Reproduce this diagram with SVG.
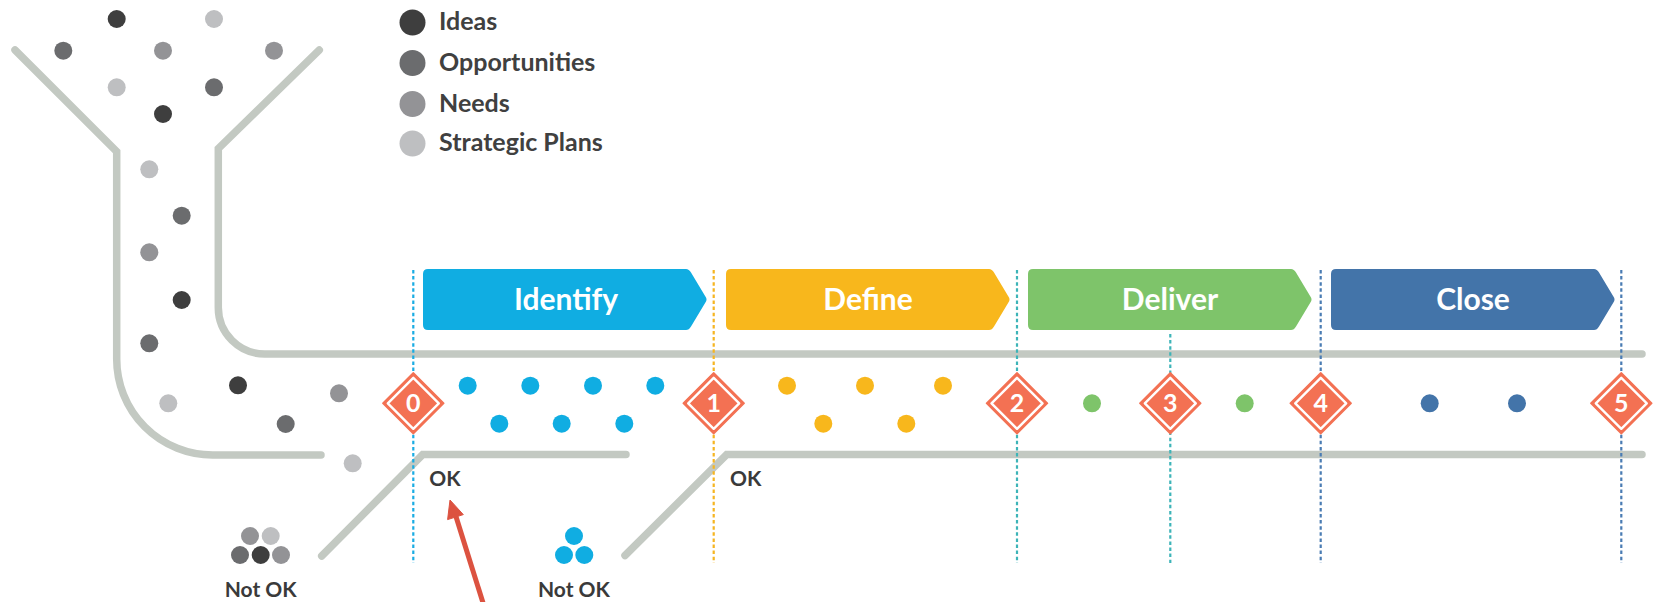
<svg xmlns="http://www.w3.org/2000/svg" width="1656" height="602" viewBox="0 0 1656 602">
<style>
  text { font-family: Lato, "Liberation Sans", "DejaVu Sans", sans-serif; font-weight: 700; }
  .pipe { fill: none; stroke: #C3C9C2; stroke-width: 7.5; stroke-linecap: round; stroke-linejoin: miter; }
  .legend { font-size: 25px; font-weight: 700; fill: #404040; }
  .phase { font-size: 30px; fill: #FFFFFF; text-anchor: middle; }
  .num { font-size: 25px; fill: #FFFFFF; text-anchor: middle; }
  .lbl { font-size: 21px; fill: #3A3A3A; }
  .lblc { font-size: 21px; fill: #3A3A3A; text-anchor: middle; }
  .dash { stroke-width: 2.2; stroke-dasharray: 3.5 2.6; fill: none; }
  .d-ideas { fill: #3E3E3E; }
  .d-opp { fill: #6B6C6E; }
  .d-needs { fill: #939396; }
  .d-strat { fill: #BEBFC1; }
  .c-blue { fill: #10ADE2; }
  .c-orange { fill: #F8B71C; }
  .c-green { fill: #7EC46A; }
  .c-navy { fill: #4374A9; }
</style>
<defs>
  <path id="chev" d="M5,0 H263 Q266,0 268,3.5 L283,28.5 Q284,30.5 283,32.5 L268,57.5 Q266,61 263,61 H5 Q0,61 0,56 V5 Q0,0 5,0 Z"/>
  <g id="diamond">
    <polygon points="0,-30.5 30.5,0 0,30.5 -30.5,0" fill="#F37153" stroke="#F37153" stroke-width="1.5" stroke-linejoin="round"/>
    <polygon points="0,-25.5 25.5,0 0,25.5 -25.5,0" fill="none" stroke="#FFFFFF" stroke-width="2.4" stroke-linejoin="round"/>
  </g>
</defs>

<!-- legend -->
<g id="legend">
  <circle class="d-ideas" cx="412.5" cy="22.5" r="13"/>
  <text class="legend" x="439" y="30">Ideas</text>
  <circle class="d-opp" cx="412.5" cy="63" r="13"/>
  <text class="legend" x="439" y="70.5">Opportunities</text>
  <circle class="d-needs" cx="412.5" cy="104" r="13"/>
  <text class="legend" x="439" y="111.5">Needs</text>
  <circle class="d-strat" cx="412.5" cy="143.5" r="13"/>
  <text class="legend" x="439" y="151">Strategic Plans</text>
</g>

<!-- funnel / pipeline walls -->
<g id="pipeline">
  <path class="pipe" d="M15,50 L116.7,151.5 V359 A96,96 0 0 0 212.7,455 H321"/>
  <path class="pipe" d="M319.3,50 L218.3,148.5 V307.5 A46.5,46.5 0 0 0 264.8,354 H1642"/>
  <path class="pipe" d="M321.7,556 L422.7,454.5 H626"/>
  <path class="pipe" d="M625,555.5 L726.7,454.5 H1642"/>
</g>

<!-- phase boxes -->
<g id="phase-identify">
  <use href="#chev" x="423" y="269" class="c-blue"/>
  <text class="phase" x="566" y="310">Identify</text>
</g>
<g id="phase-define">
  <use href="#chev" x="726" y="269" class="c-orange"/>
  <text class="phase" x="868" y="310">Define</text>
</g>
<g id="phase-deliver">
  <use href="#chev" x="1028" y="269" class="c-green"/>
  <text class="phase" x="1170" y="310">Deliver</text>
</g>
<g id="phase-close">
  <use href="#chev" x="1331" y="269" class="c-navy"/>
  <text class="phase" x="1473" y="310">Close</text>
</g>

<!-- gate dashed lines -->
<g id="connectors">
  <line class="dash" x1="413.3" y1="270" x2="413.3" y2="563" stroke="#1AACE3"/>
  <line class="dash" x1="713.7" y1="270" x2="713.7" y2="563" stroke="#F6B521"/>
  <line class="dash" x1="1017" y1="270" x2="1017" y2="563" stroke="#3DB4B8"/>
  <line class="dash" x1="1170.3" y1="334" x2="1170.3" y2="563" stroke="#3DB4B8"/>
  <line class="dash" x1="1320.7" y1="270" x2="1320.7" y2="563" stroke="#4A7CB3"/>
  <line class="dash" x1="1621.3" y1="270" x2="1621.3" y2="563" stroke="#4A7CB3"/>
  <g id="arrow">
    <line x1="484" y1="606" x2="455.8" y2="516" stroke="#DC5240" stroke-width="5"/>
    <polygon points="450,500 463.3,514.6 447.6,519.6" fill="#DC5240" stroke="#DC5240" stroke-width="1" stroke-linejoin="round"/>
  </g>
</g>

<!-- funnel dots -->
<g id="funnel-dots">
  <circle class="d-ideas" cx="116.7" cy="19" r="9"/>
  <circle class="d-strat" cx="214" cy="19" r="9"/>
  <circle class="d-opp" cx="63.3" cy="50.7" r="9"/>
  <circle class="d-needs" cx="163" cy="50.7" r="9"/>
  <circle class="d-needs" cx="274" cy="50.7" r="9"/>
  <circle class="d-strat" cx="116.7" cy="87.3" r="9"/>
  <circle class="d-opp" cx="214" cy="87.3" r="9"/>
  <circle class="d-ideas" cx="163" cy="114" r="9"/>
  <circle class="d-strat" cx="149.3" cy="169.3" r="9"/>
  <circle class="d-opp" cx="181.7" cy="215.7" r="9"/>
  <circle class="d-needs" cx="149.3" cy="252.3" r="9"/>
  <circle class="d-ideas" cx="181.7" cy="300" r="9"/>
  <circle class="d-opp" cx="149.3" cy="343.3" r="9"/>
  <circle class="d-ideas" cx="238" cy="385.3" r="9"/>
  <circle class="d-strat" cx="168.3" cy="403.3" r="9"/>
  <circle class="d-needs" cx="339" cy="393.3" r="9"/>
  <circle class="d-opp" cx="285.7" cy="424" r="9"/>
  <circle class="d-strat" cx="352.7" cy="463.3" r="9"/>
</g>

<!-- phase dots -->
<g id="identify-dots" class="c-blue">
  <circle cx="467.7" cy="385.7" r="9"/>
  <circle cx="530.3" cy="385.7" r="9"/>
  <circle cx="593" cy="385.7" r="9"/>
  <circle cx="655.3" cy="385.7" r="9"/>
  <circle cx="499.3" cy="423.7" r="9"/>
  <circle cx="561.7" cy="423.7" r="9"/>
  <circle cx="624.3" cy="423.7" r="9"/>
</g>
<g id="define-dots" class="c-orange">
  <circle cx="787" cy="385.7" r="9"/>
  <circle cx="865" cy="385.7" r="9"/>
  <circle cx="943" cy="385.7" r="9"/>
  <circle cx="823.3" cy="423.7" r="9"/>
  <circle cx="906.3" cy="423.7" r="9"/>
</g>
<g id="deliver-dots" class="c-green">
  <circle cx="1092" cy="403.3" r="9"/>
  <circle cx="1244.7" cy="403.3" r="9"/>
</g>
<g id="close-dots" class="c-navy">
  <circle cx="1429.7" cy="403.3" r="9"/>
  <circle cx="1517" cy="403.3" r="9"/>
</g>

<!-- milestones -->
<g id="gate-0"><use href="#diamond" x="413.3" y="403.3"/><text class="num" x="413.3" y="412.3">0</text></g>
<g id="gate-1"><use href="#diamond" x="713.7" y="403.3"/><text class="num" x="713.7" y="412.3">1</text></g>
<g id="gate-2"><use href="#diamond" x="1017" y="403.3"/><text class="num" x="1017" y="412.3">2</text></g>
<g id="gate-3"><use href="#diamond" x="1170.3" y="403.3"/><text class="num" x="1170.3" y="412.3">3</text></g>
<g id="gate-4"><use href="#diamond" x="1320.7" y="403.3"/><text class="num" x="1320.7" y="412.3">4</text></g>
<g id="gate-5"><use href="#diamond" x="1621.3" y="403.3"/><text class="num" x="1621.3" y="412.3">5</text></g>

<!-- outcomes -->
<g id="ok-0"><text class="lbl" x="429.3" y="486">OK</text></g>
<g id="ok-1"><text class="lbl" x="730" y="486">OK</text></g>
<g id="notok-0">
  <circle class="d-needs" cx="250" cy="536" r="9"/>
  <circle class="d-strat" cx="270.7" cy="536" r="9"/>
  <circle class="d-opp" cx="240" cy="555" r="9"/>
  <circle class="d-ideas" cx="260.7" cy="555" r="9"/>
  <circle class="d-needs" cx="281" cy="555" r="9"/>
  <text class="lblc" x="260.7" y="596.5">Not OK</text>
</g>
<g id="notok-1">
  <circle class="c-blue" cx="574" cy="536" r="9"/>
  <circle class="c-blue" cx="564" cy="555" r="9"/>
  <circle class="c-blue" cx="584.3" cy="555" r="9"/>
  <text class="lblc" x="574" y="596.5">Not OK</text>
</g>
</svg>
